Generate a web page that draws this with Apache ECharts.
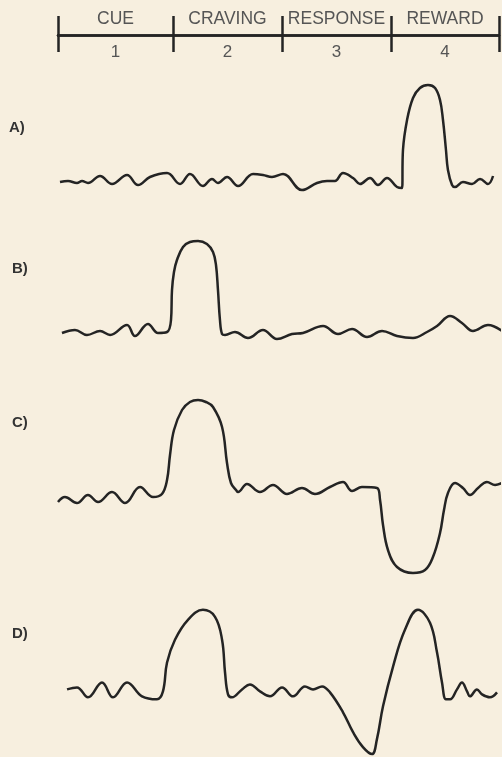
<!DOCTYPE html>
<html>
<head>
<meta charset="utf-8">
<script src="https://cdn.jsdelivr.net/npm/echarts@6/dist/echarts.min.js"></script>
<style>
html,body{margin:0;padding:0;background:#f7efdf;}
#chart{width:502px;height:757px;}
</style>
</head>
<body>
<div id="chart"></div>
<script>
// Phase axis
const phaseNames = ['CUE', 'CRAVING', 'RESPONSE', 'REWARD'];
const phaseNumbers = ['1', '2', '3', '4'];
const phaseBounds = [0, 1.043, 2.032, 3.020, 4];
const traceLabels = ['A)', 'B)', 'C)', 'D)'];

// Traces: [phase position, activity relative to baseline]
const traceA = [
  [0.018,0],[0.091,1],[0.172,-1],[0.218,1],[0.272,-1],[0.381,6],[0.490,-2],[0.626,7],[0.726,-3],
  [0.834,5],[0.989,9],[1.107,-2],[1.197,8],[1.315,-4],[1.397,3],[1.451,-1],[1.533,5],[1.633,-4],
  [1.769,8],[1.859,7],[1.941,5],[2.041,8],[2.213,-8],[2.349,-1],[2.440,1],[2.512,1],[2.585,9],
  [2.676,4],[2.739,-2],[2.830,4],[2.902,-3],[2.984,4],[3.075,-5],[3.120,-6],
  [3.129,32],[3.166,62],[3.220,84],[3.283,94],[3.356,97],[3.420,94],[3.465,82],[3.492,62],
  [3.519,32],[3.537,12],[3.574,-3],[3.601,-5],[3.673,0],[3.755,-2],[3.828,3],[3.900,-2],[3.946,6]
];
const traceB = [
  [0.036,0],[0.154,3],[0.263,-2],[0.381,2],[0.472,-2],[0.626,8],[0.698,-3],[0.816,9],[0.907,0],[0.989,1],
  [1.025,13],[1.034,43],[1.052,61],[1.079,73],[1.134,86],[1.197,91],[1.270,92],[1.351,89],[1.406,81],
  [1.433,68],[1.451,43],[1.469,13],[1.488,-1],[1.515,-2],[1.605,1],[1.723,-5],[1.859,3],[1.986,-6],[2.122,-1],
  [2.222,0],[2.404,7],[2.540,-1],[2.667,4],[2.803,-4],[2.939,2],[3.075,-3],[3.220,-5],[3.347,1],
  [3.438,7],[3.556,17],[3.664,10],[3.764,2],[3.900,8],[4.027,2]
];
const traceC = [
  [0.000,-9],[0.063,-4],[0.172,-10],[0.272,-2],[0.363,-9],[0.490,1],[0.608,-10],[0.744,6],[0.862,-4],[0.943,-1],
  [0.989,13],[1.016,38],[1.052,63],[1.125,83],[1.197,91],[1.270,93],[1.342,91],[1.406,86],[1.488,66],
  [1.533,30],[1.569,10],[1.615,3],[1.633,1],[1.714,9],[1.832,1],[1.950,8],[2.077,-1],[2.213,5],
  [2.331,-1],[2.467,6],[2.585,11],[2.667,2],[2.757,6],[2.893,5],
  [2.921,-7],[2.948,-32],[2.993,-57],[3.075,-74],[3.220,-80],[3.329,-77],[3.401,-64],[3.465,-40],
  [3.501,-17],[3.537,0],[3.601,10],[3.673,5],[3.737,-2],[3.810,5],[3.891,11],[3.964,8],[4.027,10]
];
const traceD = [
  [0.082,2],[0.172,4],[0.272,-6],[0.399,9],[0.499,-6],[0.626,9],[0.762,-5],[0.898,-8],[0.952,0],
  [0.989,29],[1.061,52],[1.179,72],[1.315,82],[1.424,75],[1.488,52],[1.515,19],[1.542,-3],
  [1.578,-6],[1.669,2],[1.741,7],[1.832,0],[1.923,-5],[2.032,4],[2.132,-5],[2.240,5],[2.313,2],
  [2.395,5],[2.467,-1],
  [2.585,-21],[2.676,-41],[2.766,-56],[2.848,-63],[2.893,-48],[2.948,-15],[3.039,25],[3.147,62],
  [3.265,82],[3.374,69],[3.438,39],[3.483,9],[3.519,-8],[3.556,-8],[3.619,2],[3.664,9],[3.710,0],
  [3.737,-5],[3.800,2],[3.846,-3],[3.918,-6],[3.982,-1]
];
const traces = [traceA, traceB, traceC, traceD];

// layout
const gridTops = [77, 228, 388, 587];
const yMins = [-85, -85, -85, -66];
const yMax = 105;
const labelTops = [120, 261, 415, 626];
const labelLefts = [9, 12, 12, 12];

const mids = [];
for (let i = 0; i < 4; i++) mids.push((phaseBounds[i] + phaseBounds[i + 1]) / 2);
function nearest(v) {
  let best = 0;
  for (let i = 1; i < mids.length; i++) if (Math.abs(mids[i] - v) < Math.abs(mids[best] - v)) best = i;
  return best;
}

const ink = '#242424';
const chart = echarts.init(document.getElementById('chart'), null, {renderer: 'canvas'});

const grids = [{left: 58, right: 3, top: 34, height: 1}];
const xAxes = [
  {
    gridIndex: 0, type: 'value', min: 0, max: 4, position: 'top',
    axisLine: {show: true, lineStyle: {color: ink, width: 2.5}},
    axisTick: {show: true, customValues: phaseBounds, length: 19, lineStyle: {color: ink, width: 2.5}},
    axisLabel: {show: true, customValues: mids, formatter: v => phaseNames[nearest(v)], margin: 6,
      fontSize: 17.5, color: '#555', fontFamily: 'Liberation Sans'},
    splitLine: {show: false}
  },
  {
    gridIndex: 0, type: 'value', min: 0, max: 4, position: 'bottom',
    axisLine: {show: true, lineStyle: {color: ink, width: 2.5}},
    axisTick: {show: true, customValues: phaseBounds, length: 17, lineStyle: {color: ink, width: 2.5}},
    axisLabel: {show: true, customValues: mids, formatter: v => phaseNumbers[nearest(v)], margin: 9,
      fontSize: 17, color: '#555', fontFamily: 'Liberation Sans'},
    splitLine: {show: false}
  }
];
const yAxes = [{gridIndex: 0, type: 'value', min: 0, max: 1, show: false}];
const series = [];
const titles = [];
traces.forEach((t, i) => {
  grids.push({left: 58, right: 3, top: gridTops[i], height: yMax - yMins[i]});
  xAxes.push({gridIndex: i + 1, type: 'value', min: 0, max: 4, show: false});
  yAxes.push({gridIndex: i + 1, type: 'value', min: yMins[i], max: yMax, show: false});
  series.push({
    type: 'line', xAxisIndex: i + 2, yAxisIndex: i + 1, data: t,
    smooth: 0.4, showSymbol: false, clip: false, silent: true,
    lineStyle: {color: ink, width: 2.5}
  });
  titles.push({
    text: traceLabels[i], left: labelLefts[i], top: labelTops[i], padding: 0,
    textStyle: {fontSize: 15, fontWeight: 'bold', color: '#333', fontFamily: 'Liberation Sans'}
  });
});

chart.setOption({
  backgroundColor: '#f7efdf',
  animation: false,
  title: titles,
  grid: grids,
  xAxis: xAxes,
  yAxis: yAxes,
  series: series
});
</script>
</body>
</html>
